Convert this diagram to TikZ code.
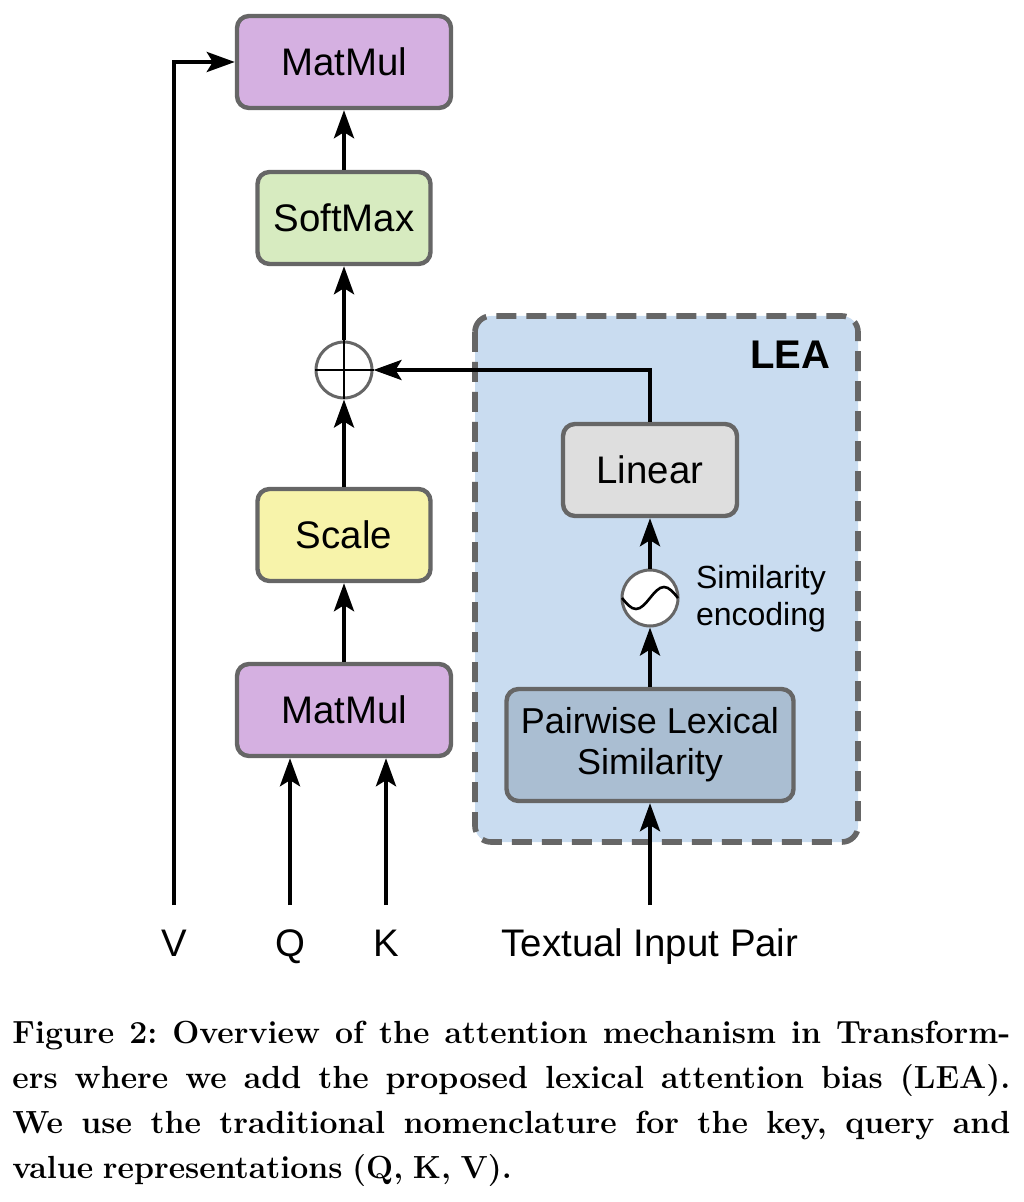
\documentclass[tikz,border=0pt]{standalone}
\usepackage{fontspec}
\newfontfamily\diagfont{Liberation Sans}
\usetikzlibrary{arrows.meta}

\definecolor{boxgray}{RGB}{102,102,102}
\definecolor{mmpurple}{RGB}{213,176,225}
\definecolor{smgreen}{RGB}{215,235,192}
\definecolor{scyellow}{RGB}{247,243,170}
\definecolor{leablue}{RGB}{201,220,240}
\definecolor{lingray}{RGB}{222,222,222}
\definecolor{plsblue}{RGB}{170,190,210}

\begin{document}
\begin{tikzpicture}[x=0.5pt, y=-0.5pt,
    font=\diagfont\fontsize{19.2}{22}\selectfont,
    block/.style={draw=boxgray, line width=2.2pt, rounded corners=6pt,
      minimum height=46pt, inner sep=0pt, align=center},
    op/.style={circle, draw=boxgray, line width=1.5pt, fill=white,
      minimum size=28pt, inner sep=0pt},
    flow/.style={line width=2pt, -{Stealth[length=14pt, width=10pt, inset=3pt]}},
    inlabel/.style={anchor=north, inner xsep=0pt, inner ysep=12pt,
      text height=13.5pt, text depth=4pt},
    leabox/.style={draw=boxgray, line width=2.8pt, dash pattern=on 10pt off 5pt,
      rounded corners=8pt, fill=leablue}]
  \useasboundingbox (0,0) rectangle (1023,1202);

  \draw[leabox] (475,316) rectangle (858,842);
  \node[font=\diagfont\bfseries\fontsize{20}{24}\selectfont] (lea) at (790,355) {LEA};

  \node[block, fill=mmpurple, minimum width=107pt] (mmout) at (344,62) {MatMul};
  \node[block, fill=smgreen, minimum width=86.5pt] (soft) at (344,218) {SoftMax};
  \node[op] (add) at (344,370) {};
  \node[block, fill=scyellow, minimum width=86.5pt] (scale) at (344,535) {Scale};
  \node[block, fill=mmpurple, minimum width=107pt] (mmqk) at (344,710) {MatMul};

  \node[block, fill=lingray, minimum width=87pt] (lin) at (650,470) {Linear};
  \node[op] (enc) at (650,598) {};
  \node[align=center, font=\diagfont\fontsize{16}{18.5}\selectfont] (enclab) at (761,599) {Similarity\\encoding};
  \node[block, fill=plsblue, minimum width=143.5pt, minimum height=56pt,
    font=\diagfont\fontsize{18}{20.5}\selectfont] (pls) at (650,745) {Pairwise Lexical\\Similarity};

  \draw[line width=1.4pt] (add.north) -- (add.south) (add.west) -- (add.east);
  \draw[line width=1.3pt, shift={(enc.center)}]
    (-28,0) sin (-14,11) cos (0,0) sin (14,-11) cos (28,0);

  \node[inlabel] (v) at (174,905) {V};
  \node[inlabel] (q) at (290,905) {Q};
  \node[inlabel] (k) at (386,905) {K};
  \node[inlabel] (txt) at (650,905) {Textual Input Pair};

  \draw[flow] (v.north) |- (mmout.west);
  \draw[flow] (q.north) -- (q.north |- mmqk.south);
  \draw[flow] (k.north) -- (k.north |- mmqk.south);
  \draw[flow] (mmqk) -- (scale);
  \draw[flow] (scale) -- (add);
  \draw[flow] (add) -- (soft);
  \draw[flow] (soft) -- (mmout);
  \draw[flow] (txt.north) -- (pls.south);
  \draw[flow] (pls) -- (enc);
  \draw[flow] (enc) -- (lin);
  \draw[flow] (lin.north) |- (add.east);

  \node[anchor=north west, inner sep=0pt, text width=499pt, align=justify,
    font=\normalfont\fontsize{16}{22.5}\selectfont\bfseries] (cap) at (12,1021)
    {\frenchspacing\spaceskip=0.3em plus 0.4em minus 0.12em\relax
     Figure 2: Overview of the attention mechanism in Transform-\linebreak
     ers where we add the proposed lexical attention bias (LEA).\linebreak
     We use the traditional nomenclature for the key, query and\linebreak
     value representations (Q, K, V).};
\end{tikzpicture}
\end{document}
